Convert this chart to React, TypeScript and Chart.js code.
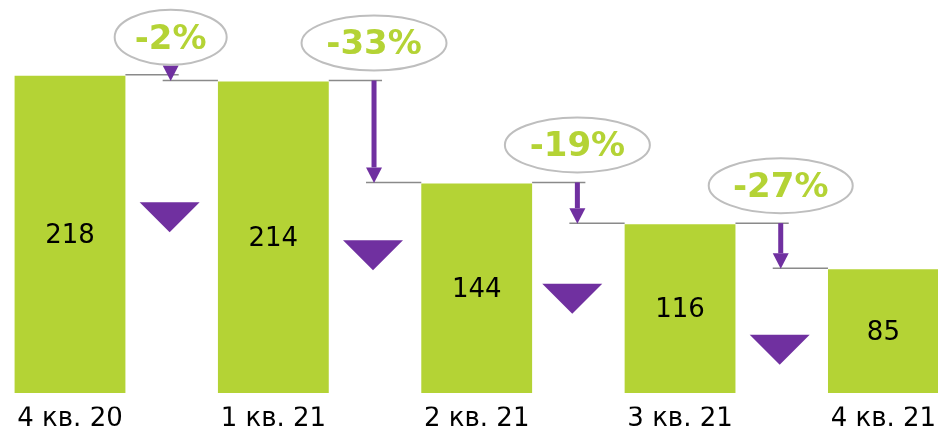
import React, { useEffect, useRef } from 'react';
import { Chart, registerables } from 'chart.js';

Chart.register(...registerables);

// ---- data ----
const categories = ['4 кв. 20', '1 кв. 21', '2 кв. 21', '3 кв. 21', '4 кв. 21'];
const values = [218, 214, 144, 116, 85];
const changeLabels = ['-2%', '-33%', '-19%', '-27%'];
// purple down-markers between bars: x position (category index) and top level (value units)
const markerAt = [0.49, 1.49, 2.47, 3.49];
const markerLevels = [131, 105, 75, 40];

// ---- styles ----
const GREEN = '#B4D335';
const PURPLE = '#7030A0';
const LINE_GRAY = '#8a8a8a';
const BUBBLE_GRAY = '#BEBEBE';
const BUBBLE_W = [112, 145, 145, 144];
const BUBBLE_H = 55;

const decorPlugin = {
  id: 'waterfallDecor',
  afterDatasetsDraw(chart: any) {
    const { ctx } = chart;
    const xs = chart.scales.x;
    const ys = chart.scales.y;
    const bars = chart.getDatasetMeta(0).data as any[];
    ctx.save();

    // value labels inside bars
    ctx.fillStyle = '#000';
    ctx.font = '26px "DejaVu Sans"';
    ctx.textAlign = 'center';
    ctx.textBaseline = 'middle';
    bars.forEach((bar, i) => {
      ctx.fillText(String(values[i]), bar.x, (bar.y + bar.base) / 2 + 2);
    });

    for (let i = 0; i < values.length - 1; i++) {
      const b0 = bars[i];
      const b1 = bars[i + 1];
      const mid = xs.getPixelForValue(i + 0.5) - 1;
      const yUp = ys.getPixelForValue(values[i]) - 1;
      const yLo = ys.getPixelForValue(values[i + 1]) - 1;

      // connector lines
      ctx.strokeStyle = LINE_GRAY;
      ctx.lineWidth = 1.5;
      ctx.beginPath();
      ctx.moveTo(b0.x + b0.width / 2, yUp);
      ctx.lineTo(mid + 8, yUp);
      ctx.moveTo(mid - 8, yLo);
      ctx.lineTo(b1.x - b1.width / 2, yLo);
      ctx.stroke();

      // arrow
      const headH = 15;
      const headW = 16;
      const headTop = yLo - headH;
      ctx.fillStyle = PURPLE;
      if (headTop > yUp) ctx.fillRect(mid - 2.5, yUp, 5, headTop - yUp);
      ctx.beginPath();
      ctx.moveTo(mid - headW / 2, headTop);
      ctx.lineTo(mid + headW / 2, headTop);
      ctx.lineTo(mid, yLo + 0.5);
      ctx.closePath();
      ctx.fill();

      // bubble with percentage
      const cy = yUp - 37.5;
      ctx.beginPath();
      ctx.ellipse(mid, cy, BUBBLE_W[i] / 2, BUBBLE_H / 2, 0, 0, Math.PI * 2);
      ctx.fillStyle = '#fff';
      ctx.fill();
      ctx.strokeStyle = BUBBLE_GRAY;
      ctx.lineWidth = 2;
      ctx.stroke();
      ctx.fillStyle = GREEN;
      ctx.font = 'bold 34px "DejaVu Sans"';
      ctx.textAlign = 'center';
      ctx.textBaseline = 'middle';
      ctx.fillText(changeLabels[i], mid, cy + 2.5);

      // purple down marker
      const mx = xs.getPixelForValue(markerAt[i]);
      const my = ys.getPixelForValue(markerLevels[i]);
      ctx.fillStyle = PURPLE;
      ctx.beginPath();
      ctx.moveTo(mx - 30, my);
      ctx.lineTo(mx + 30, my);
      ctx.lineTo(mx, my + 30);
      ctx.closePath();
      ctx.fill();
    }
    ctx.restore();
  },
};

export default function App() {
  const canvasRef = useRef<HTMLCanvasElement | null>(null);

  useEffect(() => {
    document.body.style.margin = '0';
    const canvas = canvasRef.current;
    if (!canvas) return;
    const chart = new Chart(canvas, {
      type: 'bar',
      data: {
        labels: categories,
        datasets: [
          {
            data: values,
            backgroundColor: GREEN,
            borderWidth: 0,
            categoryPercentage: 0.545,
            barPercentage: 1,
            clip: false as any,
          },
        ],
      },
      options: {
        responsive: false,
        animation: false,
        devicePixelRatio: 1,
        layout: { padding: { left: 70, right: 54.6, top: 0, bottom: 0 } },
        plugins: {
          legend: { display: false },
          tooltip: { enabled: false },
          title: { display: false },
        },
        scales: {
          x: {
            offset: false,
            grid: { display: false, drawTicks: false },
            border: { display: false },
            ticks: {
              color: '#000',
              font: { family: '"DejaVu Sans"', size: 26, lineHeight: 0.95 },
              padding: 0.45,
              maxRotation: 0,
              autoSkip: false,
            },
          },
          y: {
            display: false,
            min: -9.2,
            max: 270,
          },
        },
      },
      plugins: [decorPlugin],
    });
    return () => chart.destroy();
  }, []);

  return (
    <div style={{ width: 938, height: 432 }}>
      <canvas ref={canvasRef} width={938} height={432} />
    </div>
  );
}
